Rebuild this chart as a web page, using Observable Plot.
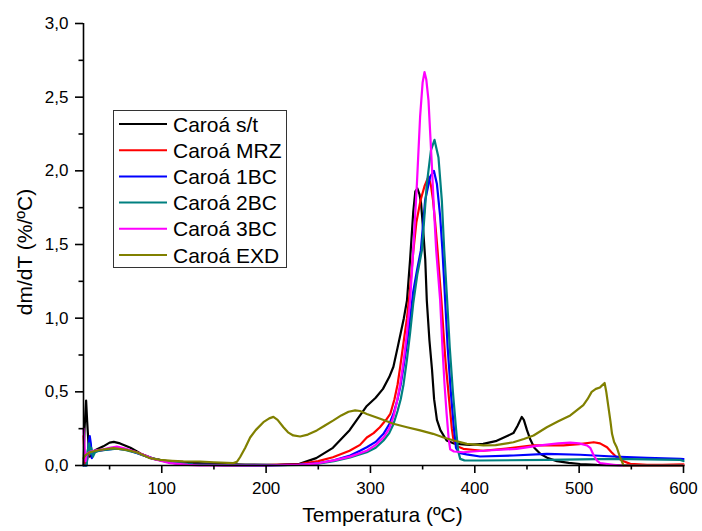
<!DOCTYPE html>
<html>
<head>
<meta charset="utf-8">
<script src="https://cdn.jsdelivr.net/npm/d3@7"></script>
<script src="https://cdn.jsdelivr.net/npm/@observablehq/plot@0.6"></script>
<style>
  body { margin: 0; background: #fff; }
  #chart { position: relative; width: 702px; height: 531px; }
</style>
</head>
<body>
<div id="chart"></div>
<script>
// DTG curves: temperature (ºC) vs dm/dT (%/ºC)
const seriesNames = ["Caroá s/t", "Caroá MRZ", "Caroá 1BC", "Caroá 2BC", "Caroá 3BC", "Caroá EXD"];
const seriesColors = ["#000000", "#ff0000", "#0000ff", "#008080", "#ff00ff", "#808000"];

const caroaST = [[25,0.0],[26,0.25],[27.5,0.44],[28.5,0.3],[30,0.12],[31,0.06],[33,0.09],[38,0.11],[44,0.13],[50,0.155],[54,0.16],[60,0.15],[70,0.12],[80,0.08],[92,0.045],[105,0.03],[124,0.02],[150,0.012],[180,0.006],[210,0.005],[232,0.012],[248,0.05],[264,0.12],[280,0.24],[296,0.40],[305,0.46],[312,0.52],[318,0.6],[322,0.67],[326,0.8],[329,0.9],[332,1.0],[335,1.12],[338,1.4],[341,1.72],[343,1.86],[345,1.88],[347,1.84],[348.5,1.78],[350.5,1.6],[352.5,1.4],[354,1.12],[356.5,0.85],[359,0.65],[361,0.45],[363.7,0.31],[367,0.24],[373,0.17],[380,0.15],[386,0.145],[395,0.14],[408,0.147],[420,0.165],[431,0.2],[437,0.22],[441,0.27],[445,0.33],[447,0.31],[450,0.24],[453,0.18],[457,0.12],[462.7,0.08],[470,0.05],[478.7,0.03],[490,0.018],[501,0.01],[517,0.004],[540,0.0],[600,0.0]];

const caroaMRZ = [[25,0.2],[26,0.05],[27,0.0],[29,0.06],[32,0.09],[40,0.1],[50,0.115],[57,0.12],[65,0.11],[76,0.09],[90,0.05],[108,0.02],[130,0.006],[160,0.002],[200,0.002],[232,0.01],[250,0.03],[264,0.056],[280,0.10],[290,0.14],[296.5,0.19],[303,0.22],[309,0.26],[315,0.31],[319,0.35],[323,0.45],[326,0.55],[328.5,0.67],[332,0.85],[335,1.0],[338,1.2],[341,1.45],[344,1.65],[348,1.8],[352,1.9],[355.6,1.96],[358,1.9],[360,1.8],[362,1.65],[364.3,1.46],[366,1.3],[368,1.12],[370,0.9],[372,0.7],[374,0.55],[376,0.4],[378,0.25],[379.6,0.17],[383,0.13],[389,0.113],[400,0.105],[408,0.1],[430,0.115],[456,0.136],[470,0.137],[485,0.136],[500,0.145],[514,0.158],[520,0.15],[526.7,0.124],[531,0.09],[536,0.056],[542,0.03],[549,0.011],[565,0.004],[580,0.005],[600,0.008]];

const caroa1BC = [[25,0.0],[28,0.0],[29.5,0.12],[31,0.2],[32,0.15],[33,0.05],[34,0.08],[38,0.1],[45,0.105],[55,0.115],[65,0.11],[76,0.085],[90,0.05],[108,0.02],[130,0.006],[160,0.002],[200,0.001],[232,0.006],[250,0.015],[265,0.035],[280.5,0.068],[290,0.1],[296.5,0.124],[305,0.16],[312.5,0.215],[318,0.28],[322,0.35],[326,0.45],[329,0.55],[331.7,0.67],[335,0.83],[338,1.0],[341,1.18],[344.5,1.32],[348.3,1.46],[352.4,1.80],[357.2,1.96],[360.8,2.0],[363.7,1.91],[366.8,1.69],[369,1.46],[371.6,1.12],[374,0.8],[377,0.5],[380,0.25],[382,0.12],[385,0.085],[392,0.075],[405,0.061],[437,0.068],[469,0.079],[501,0.073],[533,0.061],[565,0.052],[597,0.045],[600,0.044]];

const caroa2BC = [[25,0.0],[28,0.0],[29,0.1],[30.5,0.15],[31.5,0.08],[32.5,0.12],[34,0.06],[36,0.09],[40,0.1],[50,0.11],[57,0.115],[65,0.105],[76,0.085],[90,0.05],[108,0.02],[130,0.006],[160,0.002],[200,0.001],[232,0.004],[250,0.012],[265,0.03],[280.5,0.055],[296.5,0.09],[305,0.12],[312.5,0.17],[318,0.22],[322,0.28],[326,0.37],[329,0.45],[331.7,0.55],[335,0.72],[338,0.9],[341,1.1],[345,1.3],[349.3,1.46],[354,1.91],[358,2.14],[361.4,2.21],[365.2,2.09],[368.4,1.80],[370.7,1.46],[373.5,1.12],[376,0.8],[379,0.5],[382,0.25],[384,0.1],[386,0.045],[390,0.035],[405,0.034],[469,0.038],[533,0.045],[597,0.038],[600,0.03]];

const caroa3BC = [[25,0.25],[26,0.12],[27,0.03],[28,0.08],[32,0.095],[38,0.105],[44,0.11],[50,0.12],[57,0.128],[65,0.115],[76,0.09],[92,0.045],[108,0.016],[125,0.004],[136,0.0],[200,0.0],[232,0.005],[250,0.015],[265,0.035],[280.5,0.06],[296.5,0.10],[305,0.14],[312.5,0.19],[318,0.25],[322,0.33],[325,0.42],[328.5,0.55],[332,0.72],[335,0.9],[338,1.12],[341,1.46],[344.5,1.91],[347.6,2.37],[350,2.6],[351.8,2.67],[353.5,2.62],[355.6,2.48],[358.9,2.03],[360.4,1.80],[363,1.46],[366.8,1.12],[369,0.8],[371,0.55],[373,0.35],[375,0.18],[376.4,0.11],[380,0.095],[389,0.09],[408,0.10],[440,0.113],[462.7,0.136],[480,0.15],[491.5,0.155],[500,0.15],[507.5,0.136],[510.6,0.12],[514,0.068],[517,0.034],[520,0.016],[533,0.005],[540,0.0],[600,0.0]];

const caroaEXD = [[25,0.05],[27,0.07],[31,0.09],[40,0.105],[53.6,0.118],[65,0.108],[76,0.09],[88.8,0.05],[98.4,0.038],[110,0.032],[120.7,0.028],[136.7,0.027],[150,0.022],[168.6,0.016],[172,0.025],[175,0.056],[180,0.12],[184.7,0.19],[190,0.24],[197.4,0.294],[203,0.32],[207,0.33],[211,0.31],[216.6,0.26],[221,0.225],[226,0.204],[232.6,0.197],[240,0.21],[248.6,0.238],[256,0.27],[264.5,0.306],[272,0.34],[279,0.365],[285.3,0.374],[290,0.37],[296.5,0.35],[310,0.315],[322,0.283],[335,0.26],[347.6,0.238],[360,0.215],[370,0.19],[380,0.17],[392.4,0.147],[408.3,0.136],[420,0.138],[437,0.158],[447,0.18],[456.3,0.204],[469,0.26],[480,0.3],[491.5,0.34],[504,0.41],[508,0.45],[512,0.50],[516,0.52],[520,0.53],[524.4,0.56],[526,0.5],[528,0.40],[530,0.3],[531.5,0.215],[533.5,0.16],[536,0.124],[539,0.06],[542.6,0.0],[600,0.0]];

const seriesData = [caroaST, caroaMRZ, caroa1BC, caroa2BC, caroa3BC, caroaEXD];

const xTicks = [100, 200, 300, 400, 500, 600];
const xMinorTicks = [50, 150, 250, 350, 450, 550];
const yTicks = [0, 0.5, 1.0, 1.5, 2.0, 2.5, 3.0];
const yMinorTicks = [0.25, 0.75, 1.25, 1.75, 2.25, 2.75];

const xTitle = "Temperatura (ºC)";
const yTitle = "dm/dT (%/ºC)";

const FONT = "'Liberation Sans', Arial, sans-serif";
const commaFormat = d => d.toFixed(1).replace(".", ",");

const lineMarks = seriesData.map((data, i) =>
  Plot.line(data, {x: d => d[0], y: d => d[1], stroke: seriesColors[i], strokeWidth: 2.2, curve: "linear"})
);

const chart = Plot.plot({
  width: 702,
  height: 531,
  marginLeft: 83,
  marginRight: 19,
  marginTop: 23,
  marginBottom: 66,
  style: {fontFamily: FONT, fontSize: "17px", background: "#fff", color: "#000"},
  x: {domain: [25, 600]},
  y: {domain: [0, 3]},
  marks: [
    ...lineMarks,
    Plot.ruleX([25], {stroke: "#000", strokeWidth: 1.6}),
    Plot.ruleY([0], {stroke: "#000", strokeWidth: 1.6}),
    Plot.axisX(xTicks, {tickSize: 8, tickPadding: 8, strokeWidth: 1.6, label: null, fontSize: 17}),
    Plot.axisX(xMinorTicks, {tickSize: 4.5, strokeWidth: 1.6, tickFormat: () => "", label: null}),
    Plot.axisY(yTicks, {tickSize: 8, tickPadding: 7, strokeWidth: 1.6, tickFormat: commaFormat, label: null, fontSize: 17}),
    Plot.axisY(yMinorTicks, {tickSize: 4.5, strokeWidth: 1.6, tickFormat: () => "", label: null})
  ]
});

document.getElementById("chart").appendChild(chart);

// axis titles and legend box
const svg = d3.select(chart);

svg.append("text")
  .attr("x", 382.5).attr("y", 522)
  .attr("text-anchor", "middle")
  .style("font-family", FONT).style("font-size", "21px").attr("fill", "#000")
  .text(xTitle);

svg.append("text")
  .attr("transform", "translate(32,252) rotate(-90)")
  .attr("text-anchor", "middle")
  .style("font-family", FONT).style("font-size", "21px").attr("fill", "#000")
  .text(yTitle);

const legend = svg.append("g").attr("text-anchor", "start");
legend.append("rect")
  .attr("x", 113.5).attr("y", 110.5).attr("width", 173).attr("height", 157)
  .attr("fill", "#fff").attr("stroke", "#333").attr("stroke-width", 1);

const rowY = i => 124 + i * 26.2;
seriesNames.forEach((name, i) => {
  legend.append("line")
    .attr("x1", 119).attr("x2", 167)
    .attr("y1", rowY(i)).attr("y2", rowY(i))
    .attr("stroke", seriesColors[i]).attr("stroke-width", 2);
  legend.append("text")
    .attr("x", 173).attr("y", rowY(i) + 7.5)
    .attr("text-anchor", "start")
    .style("font-family", FONT).style("font-size", "21px").attr("fill", "#000")
    .text(name);
});
</script>
</body>
</html>
